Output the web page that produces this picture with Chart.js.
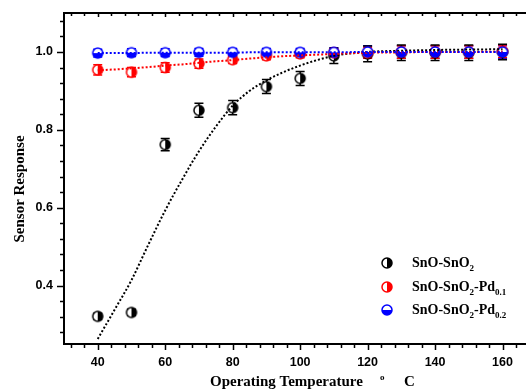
<!DOCTYPE html>
<html>
<head>
<meta charset="utf-8">
<script src="https://cdnjs.cloudflare.com/ajax/libs/Chart.js/4.4.1/chart.umd.min.js"></script>
<style>
  html, body { margin: 0; padding: 0; background: #fff; overflow: hidden; }
  #wrap { width: 526px; height: 389px; overflow: hidden; position: relative; }
  #wrap canvas { position: absolute; left: 0; top: 0; }
</style>
</head>
<body>
<div id="wrap"><canvas id="sensorChart" width="580" height="389" style="width:580px;height:389px"></canvas></div>
<script>
// measured points
const TEMPERATURES = [40, 50, 60, 70, 80, 90, 100, 110, 120, 130, 140, 150, 160];
const SNO_SNO2 = [0.321, 0.331, 0.762, 0.850, 0.857, 0.911, 0.932, 0.990, 0.995, 0.998, 0.998, 0.998, 1.000];
const SNO_SNO2_ERR = [0.008, 0.008, 0.016, 0.018, 0.018, 0.018, 0.018, 0.020, 0.020, 0.020, 0.020, 0.020, 0.020];
const PD01 = [0.954, 0.948, 0.960, 0.970, 0.980, 0.990, 0.995, 0.998, 0.998, 1.000, 1.000, 1.000, 1.002];
const PD01_ERR = [0.013, 0.012, 0.012, 0.012, 0.010, 0.010, 0.010, 0.010, 0.014, 0.016, 0.016, 0.016, 0.016];
const PD02 = [0.997, 0.998, 0.998, 0.999, 0.999, 0.999, 0.999, 0.999, 1.000, 1.000, 1.000, 1.000, 1.000];
const PD02_ERR = [0.010, 0.010, 0.010, 0.010, 0.010, 0.010, 0.010, 0.012, 0.016, 0.016, 0.016, 0.016, 0.016];

// fitted curves (dotted)
const FIT_X = [40, 45, 50, 55, 60, 65, 70, 75, 80, 85, 90, 95, 100, 105, 110, 120, 130, 140, 150, 160];
const SNO_SNO2_FIT = [0.263, 0.338, 0.414, 0.505, 0.593, 0.672, 0.745, 0.808, 0.862, 0.900, 0.927, 0.948, 0.965, 0.979, 0.990, 1.000, 1.003, 1.005, 1.006, 1.007];
const PD01_FIT = [0.953, 0.955, 0.958, 0.961, 0.965, 0.968, 0.972, 0.976, 0.979, 0.983, 0.986, 0.989, 0.991, 0.993, 0.995, 0.998, 0.999, 1.000, 1.000, 1.001];
const PD02_FIT = [0.997, 0.997, 0.997, 0.998, 0.998, 0.998, 0.998, 0.998, 0.998, 0.999, 0.999, 0.999, 0.999, 0.999, 0.999, 1.000, 1.000, 1.000, 1.000, 1.000];

const X_TICKS = [40, 60, 80, 100, 120, 140, 160, 180];
const Y_TICKS = [0.4, 0.6, 0.8, 1.0];

const LEGEND_LABELS = [
  [["SnO-SnO", false], ["2", true]],
  [["SnO-SnO", false], ["2", true], ["-Pd", false], ["0.1", true]],
  [["SnO-SnO", false], ["2", true], ["-Pd", false], ["0.2", true]]
];

const BLACK = "#000000";
const RED = "#ff0000";
const BLUE = "#0000ff";
const SERIF = '"Liberation Serif", "Times New Roman", serif';
const SANS = '"Liberation Sans", Arial, sans-serif';

function makeMarker(color, half, radius) {
  const size = radius * 2 + 4;
  const c = document.createElement("canvas");
  c.width = size;
  c.height = size;
  const ctx = c.getContext("2d");
  const m = size / 2;
  ctx.beginPath();
  ctx.arc(m, m, radius, 0, Math.PI * 2);
  ctx.fillStyle = "#fff";
  ctx.fill();
  ctx.beginPath();
  if (half === "right") {
    ctx.arc(m, m, radius, -Math.PI / 2, Math.PI / 2);
  } else {
    ctx.arc(m, m, radius, 0, Math.PI);
  }
  ctx.closePath();
  ctx.fillStyle = color;
  ctx.fill();
  ctx.beginPath();
  ctx.arc(m, m, radius, 0, Math.PI * 2);
  ctx.lineWidth = 1.5;
  ctx.strokeStyle = color;
  ctx.stroke();
  return c;
}

const MARKERS = [
  makeMarker(BLACK, "right", 5),
  makeMarker(RED, "right", 5),
  makeMarker(BLUE, "bottom", 5)
];

function toPoints(xs, ys) {
  return xs.map((x, i) => ({ x, y: ys[i] }));
}

function minorValues(start, end, step) {
  const values = [];
  for (let v = start; v <= end + 1e-9; v += step) {
    values.push(Math.round(v * 1000) / 1000);
  }
  return values;
}

const errorBarsPlugin = {
  id: "errorBars",
  beforeDatasetsDraw(chart) {
    const ctx = chart.ctx;
    const x = chart.scales.x;
    const y = chart.scales.y;
    chart.data.datasets.forEach((ds) => {
      if (!ds.errors) return;
      ctx.save();
      ctx.strokeStyle = ds.borderColor;
      ctx.lineWidth = 1.5;
      ds.data.forEach((p, i) => {
        const px = x.getPixelForValue(p.x);
        const top = y.getPixelForValue(p.y + ds.errors[i]);
        const bottom = y.getPixelForValue(p.y - ds.errors[i]);
        ctx.beginPath();
        ctx.moveTo(px, top);
        ctx.lineTo(px, bottom);
        ctx.moveTo(px - 4.5, top);
        ctx.lineTo(px + 4.5, top);
        ctx.moveTo(px - 4.5, bottom);
        ctx.lineTo(px + 4.5, bottom);
        ctx.stroke();
      });
      ctx.restore();
    });
  }
};

function drawRich(ctx, x, y, parts, size) {
  let cx = x;
  parts.forEach(([text, sub]) => {
    ctx.font = sub ? `bold ${Math.round(size * 0.62)}px ${SERIF}` : `bold ${size}px ${SERIF}`;
    ctx.fillText(text, cx, sub ? y + 6 : y);
    cx += ctx.measureText(text).width;
  });
}

const framePlugin = {
  id: "frame",
  afterDraw(chart) {
    const ctx = chart.ctx;
    const area = chart.chartArea;
    const x = chart.scales.x;
    const y = chart.scales.y;
    ctx.save();
    ctx.strokeStyle = BLACK;

    // top border
    ctx.lineWidth = 2;
    ctx.beginPath();
    ctx.moveTo(area.left - 1, area.top);
    ctx.lineTo(area.right, area.top);
    ctx.stroke();

    ctx.lineWidth = 1.5;
    // x ticks (bottom outward, top inward)
    minorValues(32, 180, 4).forEach((v) => {
      const px = Math.round(x.getPixelForValue(v)) + 0.5;
      const major = X_TICKS.includes(v);
      const len = major ? 6 : 4;
      ctx.beginPath();
      ctx.moveTo(px, area.bottom);
      ctx.lineTo(px, area.bottom + len);
      ctx.moveTo(px, area.top);
      ctx.lineTo(px, area.top + (major ? 4 : 3));
      ctx.stroke();
    });

    // y ticks (left outward)
    minorValues(0.28, 1.08, 0.04).forEach((v) => {
      const py = Math.round(y.getPixelForValue(v)) + 0.5;
      const major = Y_TICKS.some((t) => Math.abs(t - v) < 1e-6);
      ctx.beginPath();
      ctx.moveTo(area.left, py);
      ctx.lineTo(area.left - (major ? 7 : 4), py);
      ctx.stroke();
    });

    // axis titles
    ctx.fillStyle = BLACK;
    ctx.textBaseline = "alphabetic";
    ctx.textAlign = "left";
    ctx.font = `bold 15px ${SERIF}`;
    ctx.fillText("Operating Temperature", 210, 386);
    ctx.font = `bold 9px ${SERIF}`;
    ctx.fillText("o", 380, 380);
    ctx.font = `bold 15px ${SERIF}`;
    ctx.fillText("C", 404, 386);

    ctx.save();
    ctx.translate(24, 189);
    ctx.rotate(-Math.PI / 2);
    ctx.textAlign = "center";
    ctx.font = `bold 15px ${SERIF}`;
    ctx.fillText("Sensor Response", 0, 0);
    ctx.restore();

    // legend
    const rows = [263, 287, 310];
    rows.forEach((ry, i) => {
      ctx.drawImage(MARKERS[i], 387 - MARKERS[i].width / 2, ry - MARKERS[i].height / 2);
      ctx.textBaseline = "middle";
      drawRich(ctx, 412, ry, LEGEND_LABELS[i], 14);
    });

    ctx.restore();
  }
};

function buildChart() {
  const canvas = document.getElementById("sensorChart");

  new Chart(canvas, {
    type: "scatter",
    data: {
      datasets: [
        {
          data: toPoints(FIT_X, PD02_FIT),
          showLine: true,
          borderColor: BLUE,
          borderWidth: 2,
          borderDash: [2, 2],
          pointRadius: 0,
          cubicInterpolationMode: "monotone",
          order: 0
        },
        {
          data: toPoints(FIT_X, PD01_FIT),
          showLine: true,
          borderColor: RED,
          borderWidth: 2,
          borderDash: [2, 2],
          pointRadius: 0,
          cubicInterpolationMode: "monotone",
          order: 1
        },
        {
          data: toPoints(FIT_X, SNO_SNO2_FIT),
          showLine: true,
          borderColor: BLACK,
          borderWidth: 2,
          borderDash: [2, 2],
          pointRadius: 0,
          cubicInterpolationMode: "monotone",
          order: 2
        },
        {
          data: toPoints(TEMPERATURES, PD02),
          errors: PD02_ERR,
          borderColor: BLUE,
          pointStyle: MARKERS[2],
          pointRadius: 5,
          order: 3
        },
        {
          data: toPoints(TEMPERATURES, PD01),
          errors: PD01_ERR,
          borderColor: RED,
          pointStyle: MARKERS[1],
          pointRadius: 5,
          order: 4
        },
        {
          data: toPoints(TEMPERATURES, SNO_SNO2),
          errors: SNO_SNO2_ERR,
          borderColor: BLACK,
          pointStyle: MARKERS[0],
          pointRadius: 5,
          order: 5
        }
      ]
    },
    options: {
      responsive: false,
      animation: false,
      events: [],
      layout: { padding: { top: 13, right: 10, left: 0, bottom: 0 } },
      plugins: {
        legend: { display: false },
        tooltip: { enabled: false }
      },
      scales: {
        x: {
          type: "linear",
          min: 30,
          max: 180,
          afterFit(scale) {
            scale.height = 45;
            scale.paddingLeft = 0;
            scale.paddingRight = 0;
          },
          afterBuildTicks(scale) { scale.ticks = X_TICKS.map((value) => ({ value })); },
          grid: { display: false, drawTicks: false },
          border: { display: true, color: BLACK, width: 2 },
          ticks: {
            autoSkip: false,
            maxRotation: 0,
            padding: 11,
            color: BLACK,
            font: { family: SANS, size: 12.5, weight: "bold" },
            callback: (v) => String(v)
          }
        },
        y: {
          type: "linear",
          min: 0.25,
          max: 1.1,
          afterFit(scale) {
            scale.width = 64;
            scale.paddingTop = 0;
            scale.paddingBottom = 0;
          },
          afterBuildTicks(scale) { scale.ticks = Y_TICKS.map((value) => ({ value })); },
          grid: { display: false, drawTicks: false },
          border: { display: true, color: BLACK, width: 2 },
          ticks: {
            autoSkip: false,
            padding: 11,
            color: BLACK,
            font: { family: SANS, size: 12.5, weight: "bold" },
            callback: (v) => v.toFixed(1)
          }
        }
      }
    },
    plugins: [errorBarsPlugin, framePlugin]
  });
}

document.addEventListener("DOMContentLoaded", buildChart);
</script>
</body>
</html>
